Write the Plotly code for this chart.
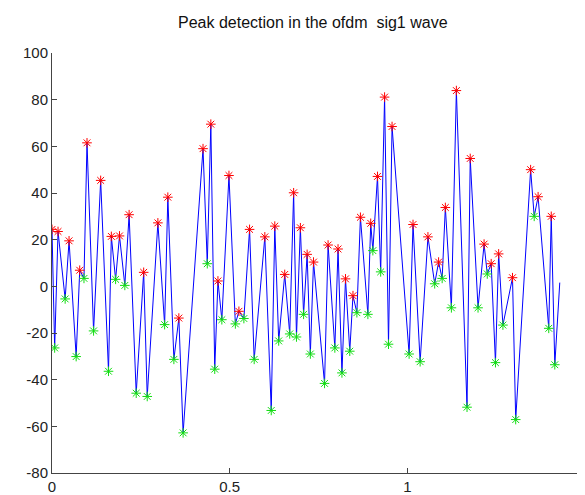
import plotly.graph_objects as go

# Peak (local maxima) positions and values
peak_x = [0.000, 0.017, 0.048, 0.078, 0.0985, 0.137, 0.167, 0.190, 0.217, 0.258,
          0.298, 0.326, 0.357, 0.425, 0.447, 0.467, 0.498, 0.526, 0.556, 0.599,
          0.627, 0.655, 0.680, 0.699, 0.718, 0.736, 0.777, 0.805, 0.826, 0.847,
          0.868, 0.897, 0.916, 0.936, 0.957, 1.016, 1.058, 1.088, 1.107, 1.138,
          1.177, 1.216, 1.236, 1.257, 1.296, 1.347, 1.368, 1.405]
peak_y = [24.4, 23.5, 19.5, 6.9, 61.5, 45.4, 21.4, 21.6, 30.7, 6.0,
          27.2, 38.2, -13.6, 59.0, 69.5, 2.3, 47.5, -10.7, 24.4, 21.2,
          25.8, 5.1, 40.1, 25.1, 13.7, 10.4, 17.7, 16.0, 3.2, -4.0,
          29.6, 27.0, 47.1, 81.1, 68.5, 26.5, 21.2, 10.4, 33.8, 83.9,
          54.8, 18.1, 9.7, 13.9, 3.7, 50.0, 38.4, 30.0]

# Trough (local minima) positions and values
trough_x = [0.0075, 0.037, 0.068, 0.090, 0.117, 0.159, 0.179, 0.205, 0.237, 0.268,
            0.317, 0.343, 0.369, 0.437, 0.458, 0.478, 0.516, 0.540, 0.569, 0.617,
            0.638, 0.669, 0.688, 0.708, 0.727, 0.767, 0.796, 0.816, 0.838, 0.858,
            0.889, 0.903, 0.925, 0.947, 1.005, 1.036, 1.077, 1.098, 1.124, 1.168,
            1.199, 1.225, 1.248, 1.269, 1.305, 1.357, 1.398, 1.415]
trough_y = [-26.4, -5.4, -30.1, 3.4, -19.1, -36.4, 3.0, 0.4, -45.8, -47.2,
            -16.4, -31.3, -62.8, 9.7, -35.5, -14.3, -16.1, -13.8, -31.3, -53.2,
            -23.4, -20.4, -21.7, -12.0, -29.0, -41.6, -26.4, -37.1, -27.8, -11.3,
            -12.0, 15.3, 6.2, -24.8, -29.0, -32.3, 1.1, 3.4, -9.2, -51.8,
            -9.2, 5.3, -32.7, -16.6, -57.1, 30.0, -18.0, -33.6]

# Last sample of the wave
end_x = [1.429]
end_y = [1.6]

x_ticks = [0, 0.5, 1, 1.5]
x_tick_text = ["0", "0.5", "1", "1.5"]
y_ticks = [100, 80, 60, 40, 20, 0, -20, -40, -60, -80]
y_tick_text = ["100", "80", "60", "40", "20", "0", "-20", "-40", "-60", "-80"]

# wave passes through all extrema in time order
wave = sorted(list(zip(peak_x, peak_y)) + list(zip(trough_x, trough_y)) + list(zip(end_x, end_y)))
wave_x = [p[0] for p in wave]
wave_y = [p[1] for p in wave]

fig = go.Figure()
fig.add_trace(go.Scatter(x=wave_x, y=wave_y, mode="lines",
                         line=dict(color="#0000ff", width=1), hoverinfo="skip"))
fig.add_trace(go.Scatter(x=peak_x, y=peak_y, mode="markers",
                         marker=dict(symbol="asterisk-open", size=8, color="#ff0000",
                                     line=dict(color="#ff0000", width=1))))
fig.add_trace(go.Scatter(x=trough_x, y=trough_y, mode="markers",
                         marker=dict(symbol="asterisk-open", size=8, color="#11dd11",
                                     line=dict(color="#11dd11", width=1))))

font_family = "Liberation Sans, Arial, sans-serif"
fig.update_layout(
    width=585, height=495, autosize=False,
    margin=dict(l=44, r=8, t=45, b=21, pad=0),
    paper_bgcolor="white", plot_bgcolor="white",
    showlegend=False,
    title=dict(text="Peak detection in the ofdm \u00a0sig1 wave", x=0.521, xanchor="center",
               y=1 - 14 / 495, yanchor="middle", yref="container",
               font=dict(family=font_family, size=16, color="#111111")),
    font=dict(family=font_family, size=14, color="#222222"),
)
fig.update_xaxes(range=[0, 1.5], tickmode="array", tickvals=x_ticks, ticktext=x_tick_text,
                 showgrid=False, zeroline=False, showline=True, linecolor="#444444", linewidth=1,
                 ticks="inside", ticklen=5, tickcolor="#444444", mirror=False,
                 tickfont=dict(size=15, family=font_family, color="#222222"))
fig.update_yaxes(range=[-80, 100], tickmode="array", tickvals=y_ticks, ticktext=y_tick_text,
                 showgrid=False, zeroline=False, showline=True, linecolor="#444444", linewidth=1,
                 ticks="inside", ticklen=5, tickcolor="#444444", mirror=False,
                 tickfont=dict(size=15, family=font_family, color="#222222"))

fig.write_html("out.html")
